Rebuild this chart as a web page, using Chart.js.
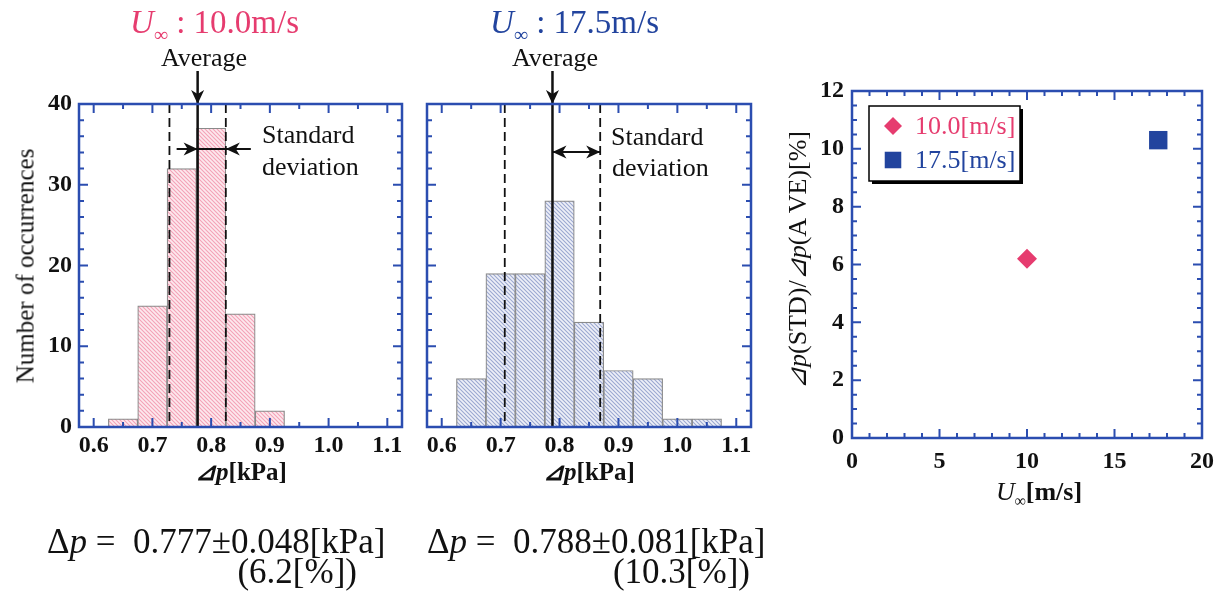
<!DOCTYPE html>
<html>
<head>
<meta charset="utf-8">
<script src="https://cdn.jsdelivr.net/npm/chart.js@4.4.0/dist/chart.umd.min.js"></script>
<style>
  body { margin: 0; background: #fff; width: 1225px; height: 591px; position: relative; overflow: hidden;
         font-family: "Liberation Serif", "Times New Roman", serif; }
  canvas { position: absolute; top: 0; }
  .t { position: absolute; white-space: nowrap; line-height: 1; color: #111; }
  .inf { font-size: 0.6em; position: relative; top: 0.4em; font-style: normal; }
</style>
</head>
<body>
<canvas id="h10" width="415" height="591" style="left:0;width:415px;height:591px"></canvas>
<canvas id="h175" width="355" height="591" style="left:415px;width:355px;height:591px"></canvas>
<canvas id="sc" width="455" height="591" style="left:770px;width:455px;height:591px"></canvas>
<script>
// histogram bins (bin centres, width 0.05 kPa) and counts
const bins10 = [0.65, 0.70, 0.75, 0.80, 0.85, 0.90];
const counts10 = [1, 15, 32, 37, 14, 2];
const bins175 = [0.65, 0.70, 0.75, 0.80, 0.85, 0.90, 0.95, 1.00, 1.05];
const counts175 = [6, 19, 19, 28, 13, 7, 6, 1, 1];
const mean10 = 0.777, std10 = 0.048;
const mean175 = 0.788, std175 = 0.081;

// right panel: STD / AVE ratio vs. free stream speed
const speedLabels = ['10.0[m/s]', '17.5[m/s]'];
const speeds = [10.0, 17.5];
const stdRatio = [6.2, 10.3];

// tick labels
const dpTicks = [0.6, 0.7, 0.8, 0.9, 1.0, 1.1];
const countTicks = [0, 10, 20, 30, 40];
const speedTicks = [0, 5, 10, 15, 20];
const ratioTicks = [0, 2, 4, 6, 8, 10, 12];

const PINK = '#e63c6f', BLUE = '#22449e', FRAME = '#2b4db0';
const serif = '"Liberation Serif", "Times New Roman", serif';
const tickFont = { family: serif, size: 24, weight: 'bold' };
Chart.defaults.font.family = serif;

function hatch(bg, fg) {
  const c = document.createElement('canvas');
  c.width = c.height = 4;
  const g = c.getContext('2d');
  g.fillStyle = bg; g.fillRect(0, 0, 4, 4);
  g.strokeStyle = fg; g.lineWidth = 1.1;
  g.beginPath();
  g.moveTo(-1, -1); g.lineTo(5, 5);
  g.moveTo(-1, 3); g.lineTo(1, 5);
  g.moveTo(3, -1); g.lineTo(5, 1);
  g.stroke();
  return g.createPattern(c, 'repeat');
}

function head(ctx, tx, ty, dx, dy) {
  const L = 14, W = 6.5, N = 4;
  const px = -dy, py = dx;
  ctx.beginPath();
  ctx.moveTo(tx, ty);
  ctx.lineTo(tx - dx * L + px * W, ty - dy * L + py * W);
  ctx.lineTo(tx - dx * (L - N), ty - dy * (L - N));
  ctx.lineTo(tx - dx * L - px * W, ty - dy * L - py * W);
  ctx.closePath();
  ctx.fill();
}

// blue frame with inward ticks on all four sides
const framePlugin = {
  id: 'frame',
  afterDraw(chart, args, o) {
    const { ctx, chartArea: a, scales: { x, y } } = chart;
    ctx.save();
    ctx.strokeStyle = FRAME;
    ctx.lineWidth = 2;
    ctx.beginPath();
    for (let k = Math.ceil(x.min / o.xMinor - 1e-9); k * o.xMinor <= x.max + 1e-9; k++) {
      const v = k * o.xMinor, px = x.getPixelForValue(v);
      const len = Math.abs(v / o.xMajor - Math.round(v / o.xMajor)) < 1e-6 ? 9 : 5;
      ctx.moveTo(px, a.bottom); ctx.lineTo(px, a.bottom - len);
      ctx.moveTo(px, a.top); ctx.lineTo(px, a.top + len);
    }
    for (let k = Math.ceil(y.min / o.yMinor - 1e-9); k * o.yMinor <= y.max + 1e-9; k++) {
      const v = k * o.yMinor, py = y.getPixelForValue(v);
      const len = Math.abs(v / o.yMajor - Math.round(v / o.yMajor)) < 1e-6 ? 9 : 5;
      ctx.moveTo(a.left, py); ctx.lineTo(a.left + len, py);
      ctx.moveTo(a.right, py); ctx.lineTo(a.right - len, py);
    }
    ctx.stroke();
    ctx.lineWidth = 2.5;
    ctx.strokeRect(a.left, a.top, a.right - a.left, a.bottom - a.top);
    ctx.restore();
  }
};

// average line, +/- std dashed lines and the annotation arrows
const statsPlugin = {
  id: 'stats',
  afterDatasetsDraw(chart, args, o) {
    const { ctx, chartArea: a, scales: { x } } = chart;
    const m = x.getPixelForValue(o.mean);
    const lo = x.getPixelForValue(o.mean - o.std);
    const hi = x.getPixelForValue(o.mean + o.std);
    ctx.save();
    ctx.strokeStyle = '#111';
    ctx.fillStyle = '#111';
    ctx.lineWidth = 1.8;
    ctx.setLineDash([9, 5]);
    ctx.beginPath();
    ctx.moveTo(lo, a.top); ctx.lineTo(lo, a.bottom);
    ctx.moveTo(hi, a.top); ctx.lineTo(hi, a.bottom);
    ctx.stroke();
    ctx.setLineDash([]);
    ctx.lineWidth = 2.5;
    ctx.beginPath();
    ctx.moveTo(m, a.top - 33); ctx.lineTo(m, a.bottom);
    ctx.stroke();
    head(ctx, m, a.top, 0, 1);
    ctx.lineWidth = 2;
    ctx.beginPath();
    if (o.mode === 'in') {
      const yy = a.top + 45;
      ctx.moveTo(m - 21, yy); ctx.lineTo(hi + 25, yy);
      ctx.stroke();
      head(ctx, m, yy, 1, 0);
      head(ctx, hi, yy, -1, 0);
    } else {
      const yy = a.top + 48;
      ctx.moveTo(m, yy); ctx.lineTo(hi, yy);
      ctx.stroke();
      head(ctx, m, yy, -1, 0);
      head(ctx, hi, yy, 1, 0);
    }
    ctx.restore();
  }
};

// boxed legend with shadow inside the plot
const boxLegend = {
  id: 'boxLegend',
  afterDraw(chart, args, o) {
    const { ctx, chartArea: a } = chart;
    const bx = a.left + o.dx, by = a.top + o.dy;
    ctx.save();
    ctx.fillStyle = '#000';
    ctx.fillRect(bx + 3, by + 3, o.w, o.h);
    ctx.fillStyle = '#fff';
    ctx.fillRect(bx, by, o.w, o.h);
    ctx.strokeStyle = '#000';
    ctx.lineWidth = 1.5;
    ctx.strokeRect(bx, by, o.w, o.h);
    chart.data.datasets.forEach((ds, i) => {
      const cy = by + o.row0 + i * o.rowGap;
      ctx.fillStyle = ds.backgroundColor;
      Chart.helpers.drawPoint(ctx, { pointStyle: ds.pointStyle, radius: ds.pointRadius * 0.9, rotation: 0, borderWidth: 0 }, bx + 24, cy);
      ctx.font = '26px ' + serif;
      ctx.textBaseline = 'middle';
      ctx.fillText(ds.label, bx + 46, cy + 1);
    });
    ctx.restore();
  }
};

function fixedTicks(list) {
  return s => { s.ticks = list.map(v => ({ value: v })); };
}

function histogram(id, bins, counts, fill, mean, std, mode, yWidth, rightPad, showY) {
  return new Chart(document.getElementById(id), {
    type: 'bar',
    data: {
      datasets: [{
        data: bins.map((b, i) => ({ x: b, y: counts[i] })),
        backgroundColor: fill,
        borderColor: '#8a8a8a',
        borderWidth: 1.2,
        barPercentage: 1,
        categoryPercentage: 1
      }]
    },
    options: {
      responsive: false,
      animation: false,
      layout: { padding: { top: 104, right: rightPad, bottom: 0, left: 0 }, autoPadding: false },
      plugins: {
        legend: { display: false },
        tooltip: { enabled: false },
        frame: { xMinor: 0.05, xMajor: 0.1, yMinor: 2, yMajor: 10 },
        stats: { mean: mean, std: std, mode: mode }
      },
      scales: {
        x: {
          type: 'linear', min: 0.575, max: 1.125, offset: false,
          grid: { display: false, drawTicks: false }, border: { display: false },
          afterBuildTicks: fixedTicks(dpTicks),
          afterFit: s => { s.height = 591 - 427; },
          ticks: { padding: 4, font: tickFont, color: '#111', maxRotation: 0, autoSkip: false,
                   callback: v => v.toFixed(1) }
        },
        y: {
          min: 0, max: 40,
          grid: { display: false, drawTicks: false }, border: { display: false },
          afterBuildTicks: fixedTicks(countTicks),
          afterFit: s => { s.width = yWidth; },
          ticks: { display: showY, padding: 7, font: tickFont, color: '#111' }
        }
      }
    },
    plugins: [statsPlugin, framePlugin]
  });
}

histogram('h10', bins10, counts10, hatch('#fde9ee', '#f4a2b6'), mean10, std10, 'in', 79, 13, true);
histogram('h175', bins175, counts175, hatch('#eef0f8', '#9ba8d0'), mean175, std175, 'out', 12, 19, false);

new Chart(document.getElementById('sc'), {
  type: 'scatter',
  data: {
    datasets: [
      { label: speedLabels[0], data: [{ x: speeds[0], y: stdRatio[0] }],
        pointStyle: 'rectRot', pointRadius: 10, backgroundColor: PINK, borderWidth: 0 },
      { label: speedLabels[1], data: [{ x: speeds[1], y: stdRatio[1] }],
        pointStyle: 'rect', pointRadius: 13, backgroundColor: BLUE, borderWidth: 0 }
    ]
  },
  options: {
    responsive: false,
    animation: false,
    layout: { padding: { top: 91, right: 23, bottom: 0, left: 0 }, autoPadding: false },
    plugins: {
      legend: { display: false },
      tooltip: { enabled: false },
      frame: { xMinor: 1, xMajor: 5, yMinor: 0.5, yMajor: 2 },
      boxLegend: { dx: 17, dy: 15, w: 151, h: 75, row0: 20, rowGap: 34 }
    },
    scales: {
      x: {
        type: 'linear', min: 0, max: 20,
        grid: { display: false, drawTicks: false }, border: { display: false },
        afterBuildTicks: fixedTicks(speedTicks),
        afterFit: s => { s.height = 591 - 438; },
        ticks: { padding: 9, font: tickFont, color: '#111', maxRotation: 0, autoSkip: false }
      },
      y: {
        min: 0, max: 12,
        grid: { display: false, drawTicks: false }, border: { display: false },
        afterBuildTicks: fixedTicks(ratioTicks),
        afterFit: s => { s.width = 82; },
        ticks: { padding: 8, font: tickFont, color: '#111' }
      }
    }
  },
  plugins: [framePlugin, boxLegend]
});

// free text: titles, annotations, axis titles, results
function txt(html, x, base, size, align, style) {
  const d = document.createElement('div');
  d.className = 't';
  d.innerHTML = html;
  d.style.fontSize = size + 'px';
  d.style.left = x + 'px';
  d.style.top = (base - 0.8375 * size) + 'px';
  if (align === 'center') d.style.transform = 'translateX(-50%)';
  if (align === 'right') d.style.transform = 'translateX(-100%)';
  Object.assign(d.style, style || {});
  document.body.appendChild(d);
}
function vtxt(html, cx, cy, size, style) {
  const d = document.createElement('div');
  d.className = 't';
  d.innerHTML = html;
  d.style.fontSize = size + 'px';
  d.style.left = cx + 'px';
  d.style.top = cy + 'px';
  d.style.transform = 'translate(-50%,-50%) rotate(-90deg)';
  Object.assign(d.style, style || {});
  document.body.appendChild(d);
}

txt('<i>U</i><span class="inf">∞</span> : 10.0m/s', 130, 34, 33, 'left', { color: PINK });
txt('<i>U</i><span class="inf">∞</span> : 17.5m/s', 490, 34, 33, 'left', { color: BLUE });
txt('Average', 204, 67, 26, 'center');
txt('Average', 555, 67, 26, 'center');
txt('Standard', 262, 144, 26, 'left');
txt('deviation', 262, 176, 26, 'left');
txt('Standard', 611, 146, 26, 'left');
txt('deviation', 612, 177, 26, 'left');
vtxt('Number of occurrences', 25, 266, 25);
txt('<i>⊿p</i>[kPa]', 241, 480, 25, 'center', { fontWeight: 'bold' });
txt('<i>⊿p</i>[kPa]', 589, 480, 25, 'center', { fontWeight: 'bold' });
txt('Δ<i>p</i> =&nbsp; 0.777±0.048[kPa]', 47, 553, 35, 'left');
txt('(6.2[%])', 357, 583, 35, 'right');
txt('Δ<i>p</i> =&nbsp; 0.788±0.081[kPa]', 427, 553, 35, 'left');
txt('(10.3[%])', 750, 583, 35, 'right');
vtxt('<i>⊿p</i>(STD)/<i>⊿p</i>(A VE)[%]', 798, 260, 26);
txt('<i>U</i><span class="inf">∞</span><b>[m/s]</b>', 1039, 501, 26, 'center');
</script>
</body>
</html>
